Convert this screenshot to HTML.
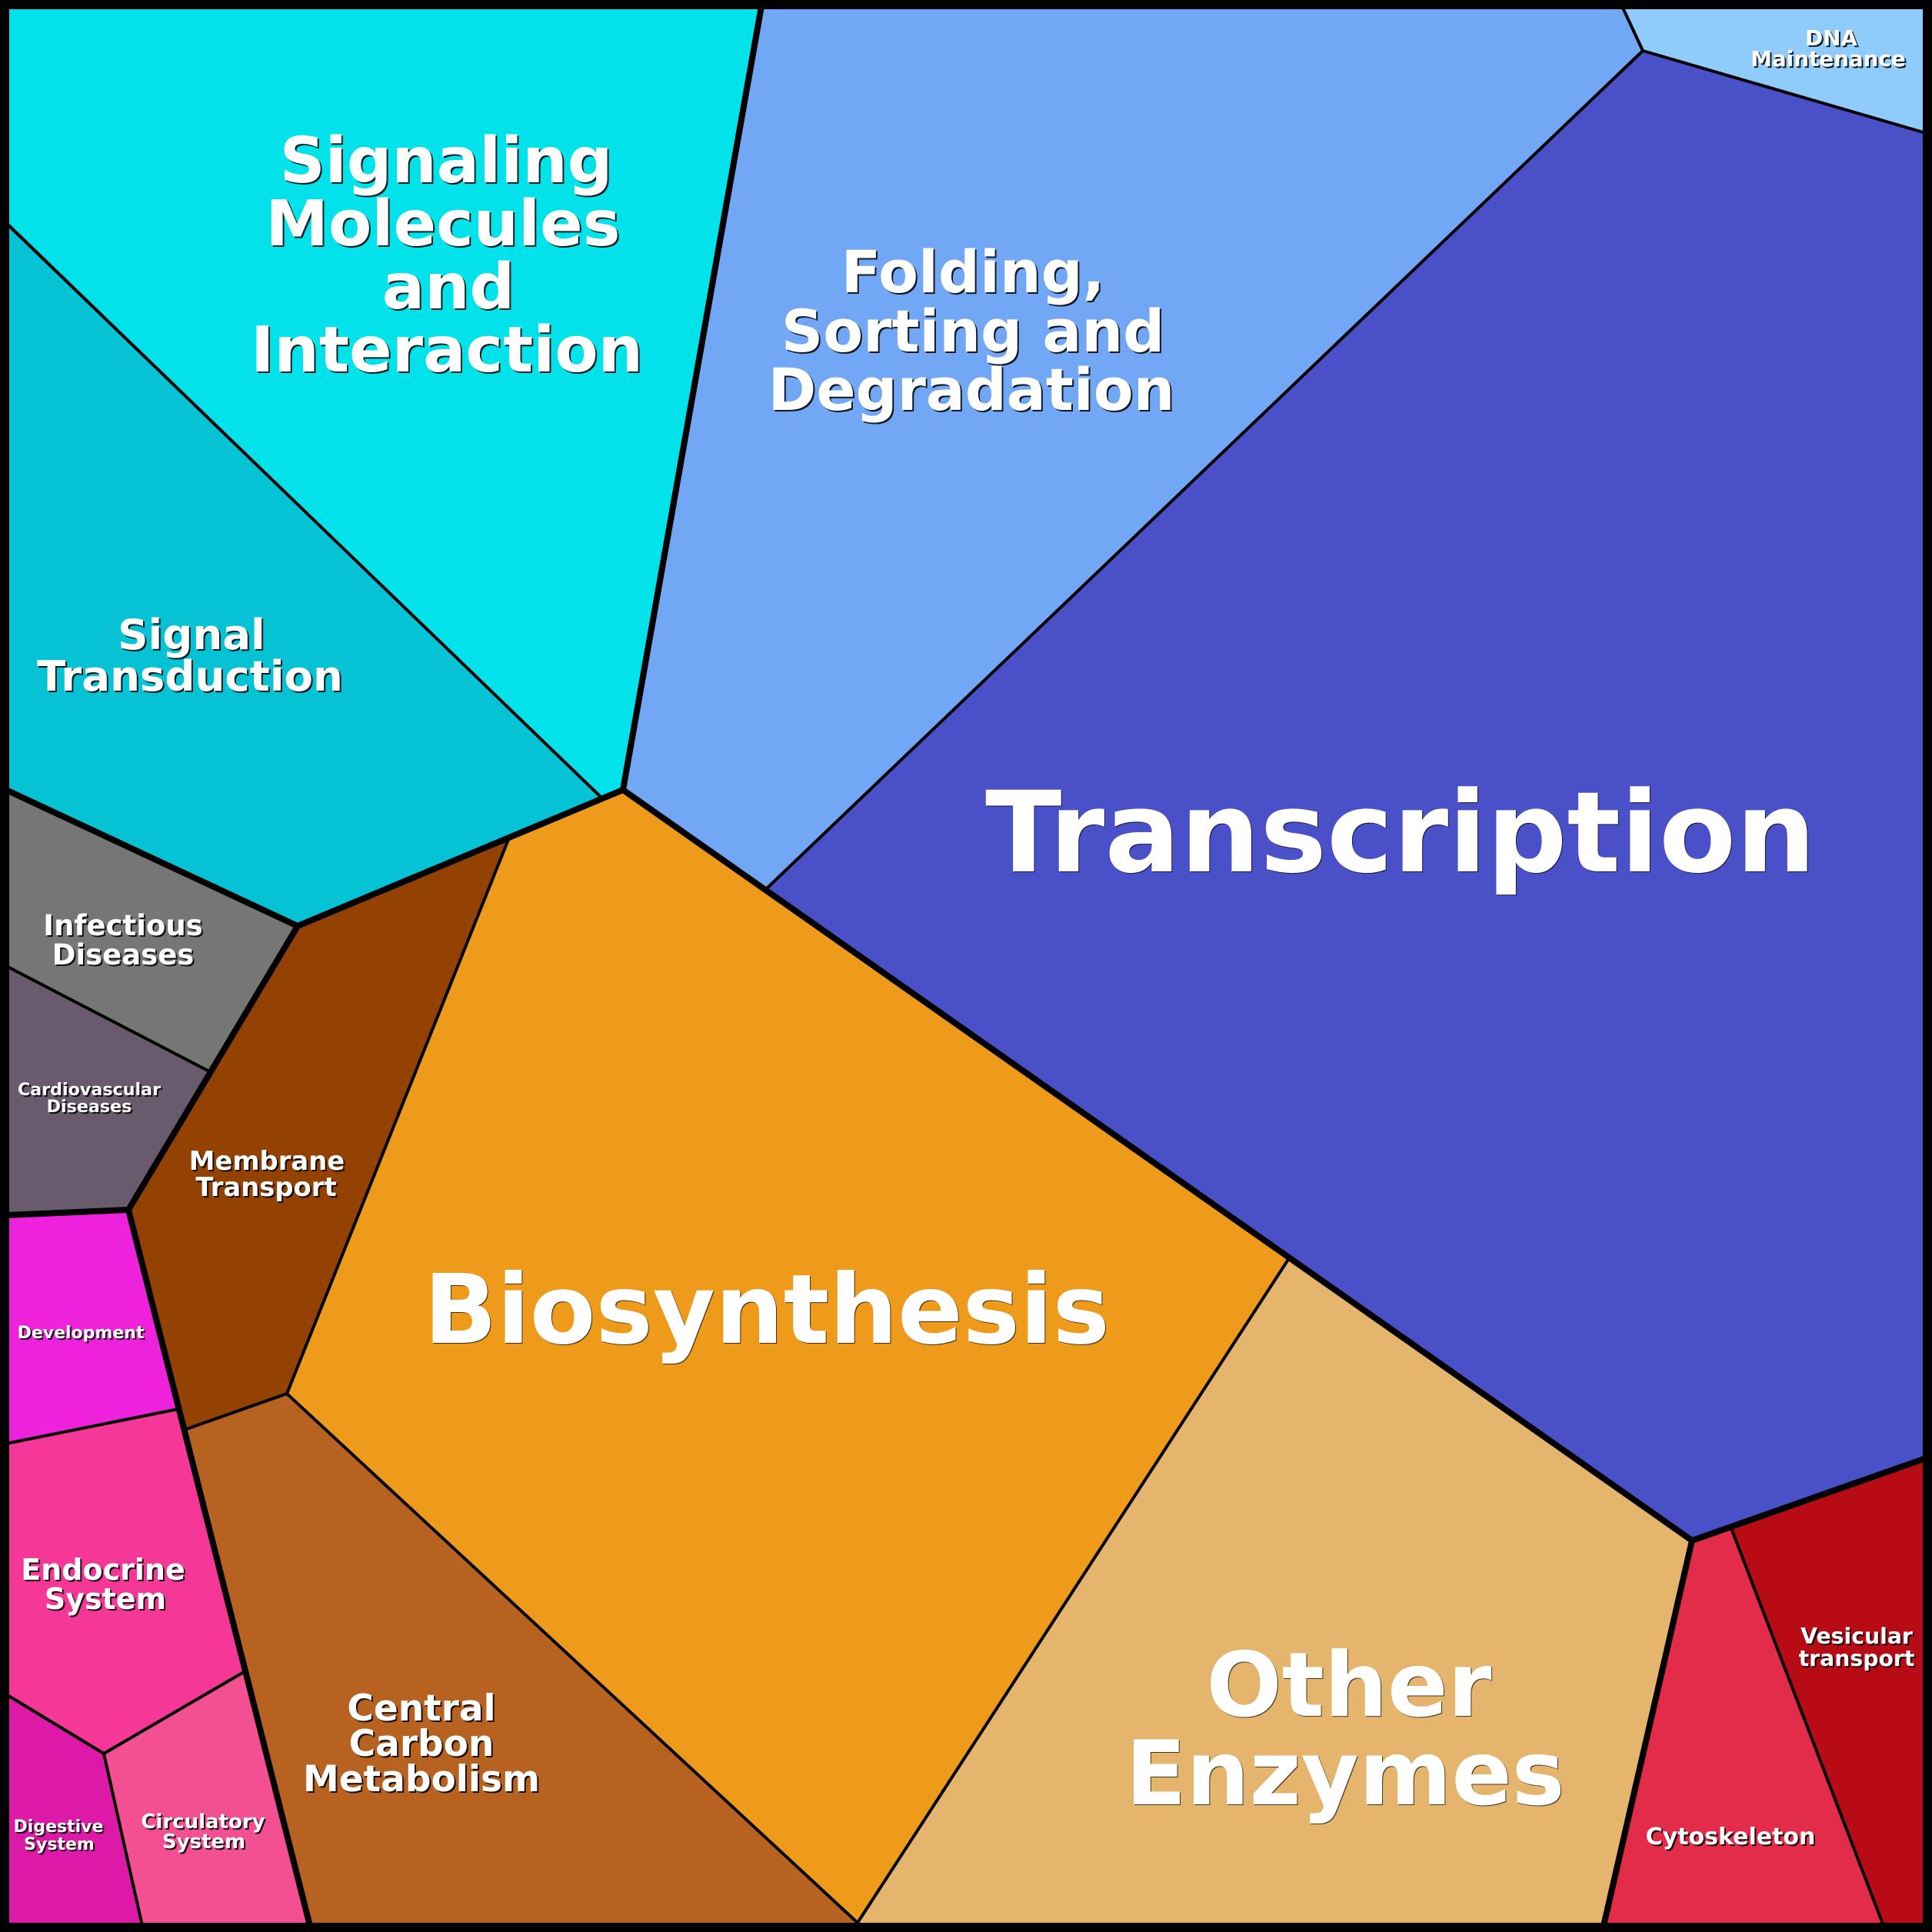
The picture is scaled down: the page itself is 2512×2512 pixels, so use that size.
<!DOCTYPE html>
<html><head><meta charset="utf-8"><style>
html,body{margin:0;padding:0;background:#000;width:2512px;height:2512px;overflow:hidden}
svg{display:block}
text{font-family:"DejaVu Sans",sans-serif;font-weight:bold;fill:#fff;text-anchor:middle}
.t{filter:drop-shadow(2px 2px 0 rgba(0,0,0,.85))}
.b{filter:drop-shadow(1.5px 1.5px 0 rgba(0,0,0,.7))}
.thin{fill:none;stroke:#000;stroke-width:4;stroke-linejoin:miter}
.thick{fill:none;stroke:#000;stroke-width:8;stroke-linejoin:miter}
</style></head><body>
<svg xmlns="http://www.w3.org/2000/svg" width="2512" height="2512" viewBox="0 0 2512 2512">
<rect width="2512" height="2512" fill="#000"/>
<g>
<polygon fill="#01e2ea" points="12,12 990,12 810,1027 782,1037 12,290"/>
<polygon fill="#71a7f4" points="990,12 2109,12 2136,66 997,1155 810,1027"/>
<polygon fill="#8fccfc" points="2109,12 2500,12 2500,173 2136,66"/>
<polygon fill="#4950c8" points="2136,66 2500,173 2500,1896 2200,2003 1676,1636 997,1155"/>
<polygon fill="#05c2d5" points="12,290 782,1037 387,1204 12,1027"/>
<polygon fill="#767677" points="12,1027 387,1204 272,1393 12,1256"/>
<polygon fill="#6a5a6e" points="12,1256 272,1393 167,1573 12,1580"/>
<polygon fill="#934204" points="662,1089 373,1812 240,1859 167,1573 387,1204"/>
<polygon fill="#ee9b1c" points="810,1027 1676,1636 1115,2500 373,1812 662,1089"/>
<polygon fill="#e5b56e" points="1676,1636 2200,2003 2085,2500 1115,2500"/>
<polygon fill="#b86222" points="373,1812 1115,2500 403,2500 240,1859"/>
<polygon fill="#ef22dc" points="12,1580 167,1573 232,1832 12,1877"/>
<polygon fill="#f53798" points="12,1877 232,1832 317,2174 135,2280 12,2203"/>
<polygon fill="#f35093" points="135,2280 317,2174 403,2500 185,2500"/>
<polygon fill="#dd1aa7" points="12,2203 135,2280 185,2500 12,2500"/>
<polygon fill="#e32b4a" points="2200,2003 2251,1987 2449,2500 2085,2500"/>
<polygon fill="#b70b15" points="2251,1987 2500,1896 2500,2500 2449,2500"/>
</g>
<g class="thin">
<path d="M8,290 L782,1037"/>
<path d="M2109,8 L2136,66 L2504,173"/>
<path d="M2136,66 L997,1155"/>
<path d="M8,1256 L272,1393"/>
<path d="M662,1089 L373,1812 L240,1859"/>
<path d="M373,1812 L1115,2500 L1676,1636"/>
<path d="M8,1877 L232,1832"/>
<path d="M8,2203 L135,2280 L317,2174"/>
<path d="M135,2280 L185,2504"/>
<path d="M2251,1987 L2449,2504"/>
</g>
<g class="thick">
<path d="M990,8 L810,1027"/>
<path d="M810,1027 L387,1204 L8,1027"/>
<path d="M810,1027 L2200,2003 L2504,1896"/>
<path d="M2200,2003 L2085,2504"/>
<path d="M387,1204 L167,1573 L8,1580"/>
<path d="M167,1573 L403,2504"/>
</g>
<rect x="6" y="6" width="2500" height="2500" fill="none" stroke="#000" stroke-width="12"/>
<g class="b">
<text font-size="145.7" x="1821" y="1133">Transcription</text>
<text font-size="124.7" x="997" y="1746">Biosynthesis</text>
<text font-size="115.5"><tspan x="1754" y="2231">Other</tspan><tspan x="1749" y="2346">Enzymes</tspan></text>
</g>
<g class="t">
<text font-size="82"><tspan x="580" y="237">Signaling</tspan><tspan x="576" y="319">Molecules</tspan><tspan x="583" y="401">and</tspan><tspan x="581" y="483">Interaction</tspan></text>
<text font-size="75.5"><tspan x="1265" y="380">Folding,</tspan><tspan x="1265" y="457">Sorting and</tspan><tspan x="1263" y="533">Degradation</tspan></text>
<text font-size="54.6"><tspan x="249" y="844">Signal</tspan><tspan x="247" y="898">Transduction</tspan></text>
<text font-size="37"><tspan x="160" y="1216">Infectious</tspan><tspan x="160" y="1254">Diseases</tspan></text>
<text font-size="22.2"><tspan x="116" y="1424">Cardiovascular</tspan><tspan x="116" y="1446">Diseases</tspan></text>
<text font-size="33.8"><tspan x="347" y="1521">Membrane</tspan><tspan x="346" y="1555">Transport</tspan></text>
<text font-size="22" x="105" y="1740">Development</text>
<text font-size="38"><tspan x="134" y="2054">Endocrine</tspan><tspan x="137" y="2092">System</tspan></text>
<text font-size="22"><tspan x="76" y="2382">Digestive</tspan><tspan x="77" y="2405">System</tspan></text>
<text font-size="26"><tspan x="264" y="2377">Circulatory</tspan><tspan x="265" y="2403">System</tspan></text>
<text font-size="47"><tspan x="548" y="2237">Central</tspan><tspan x="548" y="2283">Carbon</tspan><tspan x="548" y="2329">Metabolism</tspan></text>
<text font-size="30" x="2250" y="2398">Cytoskeleton</text>
<text font-size="28.3"><tspan x="2414" y="2137">Vesicular</tspan><tspan x="2414" y="2166">transport</tspan></text>
<text font-size="27.8"><tspan x="2381" y="59">DNA</tspan><tspan x="2377" y="86">Maintenance</tspan></text>
</g>
</svg>
</body></html>
